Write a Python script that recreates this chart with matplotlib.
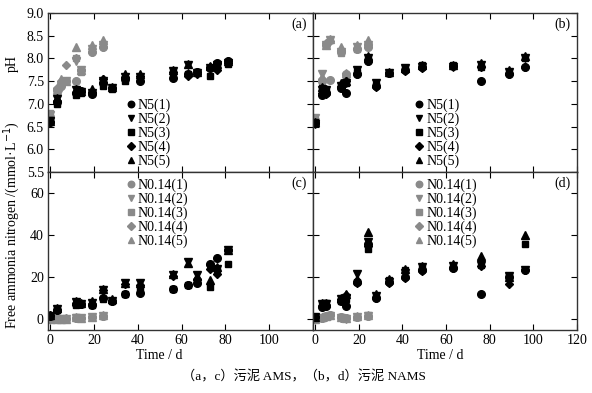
import matplotlib
matplotlib.use("Agg")
from matplotlib import pyplot as plt

plt.rcParams['font.family'] = ['Liberation Serif', 'Noto Sans CJK SC']
plt.rcParams['font.size'] = 10

# time points (d)
t_ams = [0, 3, 12, 14, 19, 24, 28, 34, 41, 56, 63, 67, 73, 76, 81]
t_nams = [0, 3, 5, 12, 14, 19, 24, 28, 34, 41, 49, 63, 76, 89, 96]
t_low = [0, 3, 5, 7, 12, 14, 19, 24]

n5_labels = ["N5(1)", "N5(2)", "N5(3)", "N5(4)", "N5(5)"]
n014_labels = ["N0.14(1)", "N0.14(2)", "N0.14(3)", "N0.14(4)", "N0.14(5)"]

# pH, sludge AMS
ph_ams_n5 = [
    [6.60, 7.05, 7.25, 7.28, 7.22, 7.45, 7.35, 7.55, 7.50, 7.58, 7.65, 7.70, 7.80, 7.90, 7.95],
    [6.62, 7.10, 7.30, 7.27, 7.25, 7.50, 7.35, 7.60, 7.60, 7.72, 7.85, 7.68, 7.78, 7.85, 7.90],
    [6.65, 7.00, 7.20, 7.25, 7.25, 7.40, 7.33, 7.50, 7.60, 7.70, 7.65, 7.70, 7.62, 7.80, 7.87],
    [6.60, 7.07, 7.25, 7.27, 7.27, 7.55, 7.35, 7.60, 7.62, 7.70, 7.62, 7.65, 7.82, 7.75, 7.90],
    [6.63, 7.12, 7.32, 7.28, 7.32, 7.55, 7.37, 7.65, 7.65, 7.75, 7.87, 7.70, 7.83, 7.88, 7.95],
]
ph_ams_n014 = [
    [6.70, 7.30, 7.40, 7.50, 7.50, 7.75, 8.15, 8.25],
    [6.75, 7.25, 7.35, 7.50, 7.95, 7.75, 8.20, 8.30],
    [6.80, 7.30, 7.45, 7.50, 8.00, 7.70, 8.20, 8.30],
    [6.70, 7.35, 7.50, 7.85, 8.00, 7.75, 8.15, 8.25],
    [6.78, 7.30, 7.55, 7.50, 8.25, 7.75, 8.30, 8.40],
]

# pH, sludge NAMS
ph_nams_n5 = [
    [6.57, 7.20, 7.25, 7.35, 7.25, 7.65, 7.95, 7.40, 7.68, 7.75, 7.82, 7.83, 7.50, 7.65, 7.82],
    [6.55, 7.30, 7.30, 7.40, 7.45, 7.75, 8.00, 7.45, 7.68, 7.78, 7.82, 7.82, 7.85, 7.70, 8.00],
    [6.60, 7.35, 7.28, 7.40, 7.45, 7.70, 8.00, 7.42, 7.68, 7.80, 7.85, 7.85, 7.82, 7.70, 8.02],
    [6.58, 7.25, 7.22, 7.38, 7.50, 7.65, 7.95, 7.38, 7.68, 7.72, 7.80, 7.83, 7.82, 7.65, 7.82],
    [6.60, 7.38, 7.32, 7.45, 7.50, 7.75, 8.05, 7.45, 7.70, 7.80, 7.85, 7.85, 7.90, 7.75, 8.05],
]
ph_nams_n014 = [
    [6.65, 7.50, 8.30, 7.52, 8.15, 7.65, 8.20, 8.25],
    [6.68, 7.65, 8.30, 8.40, 8.15, 7.60, 8.25, 8.30],
    [6.65, 7.50, 8.30, 8.40, 8.12, 7.60, 8.20, 8.30],
    [6.62, 7.55, 8.35, 8.38, 8.18, 7.65, 8.20, 8.30],
    [6.68, 7.60, 8.30, 8.42, 8.25, 7.68, 8.30, 8.40],
]

# free ammonia nitrogen, sludge AMS
fan_ams_n5 = [
    [1.8, 4.5, 7.5, 7.5, 7.0, 10.0, 9.0, 12.0, 12.5, 14.5, 16.5, 17.5, 26.5, 29.0, 33.0],
    [1.8, 5.0, 8.5, 7.5, 8.0, 14.0, 9.0, 17.5, 17.5, 21.0, 27.5, 21.0, 24.5, 24.0, 33.0],
    [1.5, 4.5, 6.8, 7.2, 7.0, 9.5, 8.8, 12.0, 15.0, 14.5, 16.5, 18.0, 15.5, 24.0, 26.5],
    [2.0, 4.5, 7.5, 7.5, 7.5, 14.0, 9.0, 17.0, 16.5, 20.5, 16.5, 19.0, 24.0, 21.5, 33.0],
    [2.0, 5.5, 9.0, 8.0, 9.0, 14.5, 9.5, 17.5, 17.5, 21.5, 27.0, 20.5, 18.5, 25.0, 33.0],
]
fan_ams_n014 = [
    [0.2, 0.3, 0.3, 0.4, 0.5, 0.6, 1.3, 1.8],
    [0.1, 0.2, 0.3, 0.3, 0.8, 0.5, 1.2, 1.6],
    [0.2, 0.3, 0.2, 0.4, 1.0, 0.6, 1.3, 1.8],
    [0.1, 0.3, 0.3, 0.5, 0.9, 0.6, 1.3, 1.7],
    [0.2, 0.2, 0.4, 0.4, 1.2, 0.7, 1.4, 1.9],
]

# free ammonia nitrogen, sludge NAMS
fan_nams_n5 = [
    [1.2, 6.0, 6.5, 9.0, 6.2, 17.8, 36.0, 10.0, 17.8, 20.0, 23.5, 24.5, 12.2, 20.0, 23.5],
    [1.0, 7.5, 7.5, 9.5, 10.0, 21.7, 37.0, 11.0, 18.0, 22.0, 25.0, 25.5, 25.7, 20.5, 23.5],
    [1.2, 7.5, 8.0, 9.0, 9.5, 18.0, 33.6, 10.5, 18.5, 23.7, 24.5, 25.0, 26.0, 20.5, 35.7],
    [1.0, 6.5, 7.0, 9.5, 11.4, 17.5, 35.0, 10.0, 17.5, 19.5, 23.0, 24.5, 25.5, 16.7, 23.3],
    [1.3, 7.8, 8.0, 10.0, 12.0, 19.0, 41.6, 12.0, 19.0, 24.0, 25.5, 26.5, 30.0, 20.0, 40.0],
]
fan_nams_n014 = [
    [0.3, 0.8, 1.5, 2.0, 1.0, 0.5, 1.3, 1.8],
    [0.2, 0.6, 1.2, 1.8, 0.8, 0.4, 1.2, 1.6],
    [0.3, 0.9, 1.6, 2.2, 1.1, 0.6, 1.4, 1.9],
    [0.2, 0.7, 1.4, 2.1, 0.9, 0.5, 1.3, 1.7],
    [0.4, 1.0, 1.8, 2.3, 1.2, 0.7, 1.5, 2.0],
]

markers = ["o", "v", "s", "D", "^"]
sizes = [5.5, 5.5, 5, 4.5, 5.5]
black = "black"
gray = "#8a8a8a"

W, H = 592, 393
fig = plt.figure(figsize=(W / 100, H / 100), dpi=100)
x0, xm, x1 = 48 / W, 313 / W, 577 / W
yt, ym, yb = 1 - 13 / H, 1 - 172 / H, 1 - 330 / H

axA = fig.add_axes([x0, ym, xm - x0, yt - ym])
axB = fig.add_axes([xm, ym, x1 - xm, yt - ym])
axC = fig.add_axes([x0, yb, xm - x0, ym - yb])
axD = fig.add_axes([xm, yb, x1 - xm, ym - yb])


def draw(ax, t_big, big, t_small, small, legend_big, lx):
    # low-N group in gray, N5 group in black
    h_small, h_big = [], []
    for i in range(5):
        h, = ax.plot(t_small, small[i], linestyle="none", marker=markers[i],
                     ms=sizes[i], color=gray, mec=gray)
        h_small.append(h)
    for i in range(5):
        h, = ax.plot(t_big, big[i], linestyle="none", marker=markers[i],
                     ms=sizes[i], color=black, mec=black)
        h_big.append(h)
    if legend_big:
        handles, labels, ly = h_big, n5_labels, 0.505
    else:
        handles, labels, ly = h_small, n014_labels, 1.005
    ax.legend(handles, labels, loc="upper left", bbox_to_anchor=(lx, ly),
              frameon=False, handlelength=0.6, handletextpad=0.2,
              labelspacing=0.04, borderpad=0, fontsize=10, markerscale=0.85)


draw(axA, t_ams, ph_ams_n5, t_low, ph_ams_n014, True, 0.27)
draw(axB, t_nams, ph_nams_n5, t_low, ph_nams_n014, True, 0.36)
draw(axC, t_ams, fan_ams_n5, t_low, fan_ams_n014, False, 0.27)
draw(axD, t_nams, fan_nams_n5, t_low, fan_nams_n014, False, 0.36)

for ax, tag in zip([axA, axB, axC, axD], ["(a)", "(b)", "(c)", "(d)"]):
    ax.set_xlim(-1, 120)
    ax.set_xticks(range(0, 121, 20))
    ax.tick_params(direction="in", top=True, right=True, length=4, width=0.8,
                   labelsize=10, pad=3)
    for s in ax.spines.values():
        s.set_linewidth(1.0)
        s.set_color("#333333")
    ax.text(0.975, 0.93, tag, transform=ax.transAxes, ha="right", va="center",
            fontsize=10)

for ax in [axA, axB]:
    ax.set_ylim(5.5, 9.0)
    ax.set_yticks([5.5, 6.0, 6.5, 7.0, 7.5, 8.0, 8.5, 9.0])
    ax.tick_params(labelbottom=False)
axA.set_yticklabels(["5.5", "6.0", "6.5", "7.0", "7.5", "8.0", "8.5", "9.0"])
axB.tick_params(labelleft=False)

for ax in [axC, axD]:
    ax.set_ylim(-5, 70)
    ax.set_yticks([0, 20, 40, 60])
axD.tick_params(labelleft=False)
axC.set_xticklabels(["0", "20", "40", "60", "80", "100", ""])

axC.set_xlabel("Time / d", fontsize=10, labelpad=1)
axC.xaxis.set_label_coords((159 - 48) / 265, -0.12)
axD.set_xlabel("Time / d", fontsize=10, labelpad=1)
axD.xaxis.set_label_coords((440 - 313) / 264, -0.12)

fig.text(12 / W, 1 - 63 / H, "pH", rotation=90, ha="center", va="center", fontsize=10)
fig.text(12 / W, 1 - 225 / H, "Free ammonia nitrogen /(mmol·L$^{-1}$)", rotation=90,
         ha="center", va="center", fontsize=10)

fig.text(304 / W, 1 - 377 / H, "（a，c）污泥 AMS，（b，d）污泥 NAMS",
         ha="center", va="center", fontsize=9.5)

fig.savefig("out.png", dpi=100)
